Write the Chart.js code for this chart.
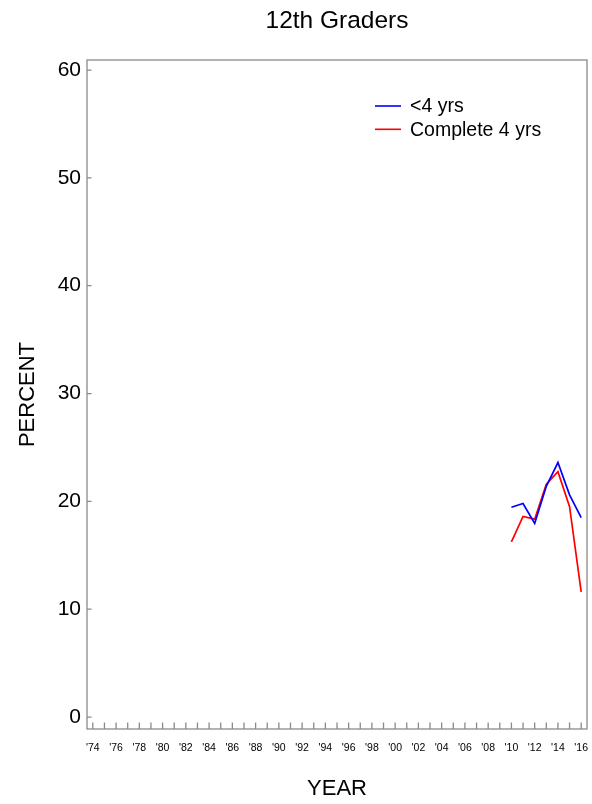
<!DOCTYPE html>
<html><head><meta charset="utf-8">
<script src="https://cdn.jsdelivr.net/npm/chart.js@4/dist/chart.umd.min.js"></script>
<style>html,body{margin:0;padding:0;background:#fff;}canvas{display:block}</style>
</head><body>
<canvas id="c" width="592" height="804"></canvas>
<script>
const chartTitle = '12th Graders';
const xAxisTitle = 'YEAR';
const yAxisTitle = 'PERCENT';
const seriesLabels = ['<4 yrs', 'Complete 4 yrs'];
const seriesColors = ['#0000ff', '#ff0000'];
const years = [2010, 2011, 2012, 2013, 2014, 2015, 2016];
const lessThan4Yrs = [19.45, 19.8, 17.95, 21.4, 23.6, 20.6, 18.5];
const complete4Yrs = [16.25, 18.6, 18.35, 21.6, 22.75, 19.5, 11.6];
const yTicks = [0, 10, 20, 30, 40, 50, 60];
const xTickYears = [1974,1975,1976,1977,1978,1979,1980,1981,1982,1983,1984,1985,1986,1987,1988,1989,1990,1991,1992,1993,1994,1995,1996,1997,1998,1999,2000,2001,2002,2003,2004,2005,2006,2007,2008,2009,2010,2011,2012,2013,2014,2015,2016];

const FONT = "'Liberation Sans', Arial, sans-serif";
const AXIS_GRAY = '#8a8a8a';

function toPoints(arr) { return years.map((x, i) => ({ x: x, y: arr[i] })); }

const decorPlugin = {
  id: 'decor',
  afterDraw(chart) {
    const ctx = chart.ctx;
    const a = chart.chartArea;
    const xs = chart.scales.x, ys = chart.scales.y;
    ctx.save();
    ctx.strokeStyle = AXIS_GRAY;
    ctx.lineWidth = 1.3;
    ctx.strokeRect(a.left, a.top, a.right - a.left, a.bottom - a.top);
    ctx.beginPath();
    yTicks.forEach(v => {
      const py = ys.getPixelForValue(v);
      ctx.moveTo(a.left, py); ctx.lineTo(a.left + 4.5, py);
    });
    xTickYears.forEach(v => {
      const px = xs.getPixelForValue(v);
      ctx.moveTo(px, a.bottom); ctx.lineTo(px, a.bottom - 6.5);
    });
    ctx.stroke();
    ctx.fillStyle = '#000';
    ctx.font = '24.5px ' + FONT;
    ctx.textAlign = 'center';
    ctx.textBaseline = 'middle';
    ctx.fillText(chartTitle, (a.left + a.right) / 2, 21);
    ctx.font = '19.5px ' + FONT;
    ctx.textAlign = 'left';
    chart.data.datasets.forEach((ds, i) => {
      const ly = 106 + i * 23.3;
      ctx.strokeStyle = ds.borderColor;
      ctx.lineWidth = 1.6;
      ctx.beginPath();
      ctx.moveTo(375, ly); ctx.lineTo(401, ly);
      ctx.stroke();
      ctx.fillStyle = '#000';
      ctx.fillText(ds.label, 410, ly + 1);
    });
    ctx.restore();
  }
};

new Chart(document.getElementById('c'), {
  type: 'line',
  data: {
    datasets: [
      { label: seriesLabels[0], data: toPoints(lessThan4Yrs), borderColor: seriesColors[0], borderWidth: 1.7, pointRadius: 0, tension: 0, fill: false },
      { label: seriesLabels[1], data: toPoints(complete4Yrs), borderColor: seriesColors[1], borderWidth: 1.7, pointRadius: 0, tension: 0, fill: false }
    ]
  },
  options: {
    responsive: false,
    devicePixelRatio: 1,
    animation: false,
    layout: { padding: { top: 60, right: 5, left: 0, bottom: 0 } },
    plugins: { legend: { display: false }, title: { display: false }, tooltip: { enabled: false } },
    scales: {
      x: {
        type: 'linear',
        min: 1973.5, max: 2016.5,
        afterBuildTicks: s => { s.ticks = xTickYears.map(v => ({ value: v })); },
        afterFit: s => { s.height = 75; s.paddingLeft = 0; s.paddingRight = 0; },
        grid: { display: false, drawTicks: false },
        border: { display: false },
        ticks: {
          autoSkip: false, maxRotation: 0, minRotation: 0, padding: 13,
          color: '#000', font: { family: FONT, size: 10.5 },
          callback: v => (v % 2 === 0 ? "'" + String(v).slice(2) : '')
        },
        title: { display: true, text: xAxisTitle, color: '#000', font: { family: FONT, size: 22 }, padding: { top: 0, bottom: 2 } }
      },
      y: {
        type: 'linear',
        min: -1.11, max: 60.93,
        afterBuildTicks: s => { s.ticks = yTicks.map(v => ({ value: v })); },
        afterFit: s => { s.width = 87; s.paddingTop = 0; s.paddingBottom = 0; },
        grid: { display: false, drawTicks: false },
        border: { display: false },
        ticks: { padding: 6, color: '#000', font: { family: FONT, size: 21 } },
        title: { display: true, text: yAxisTitle, color: '#000', font: { family: FONT, size: 22 }, padding: { top: 15, bottom: 0 } }
      }
    }
  },
  plugins: [decorPlugin]
});
</script>
</body></html>
